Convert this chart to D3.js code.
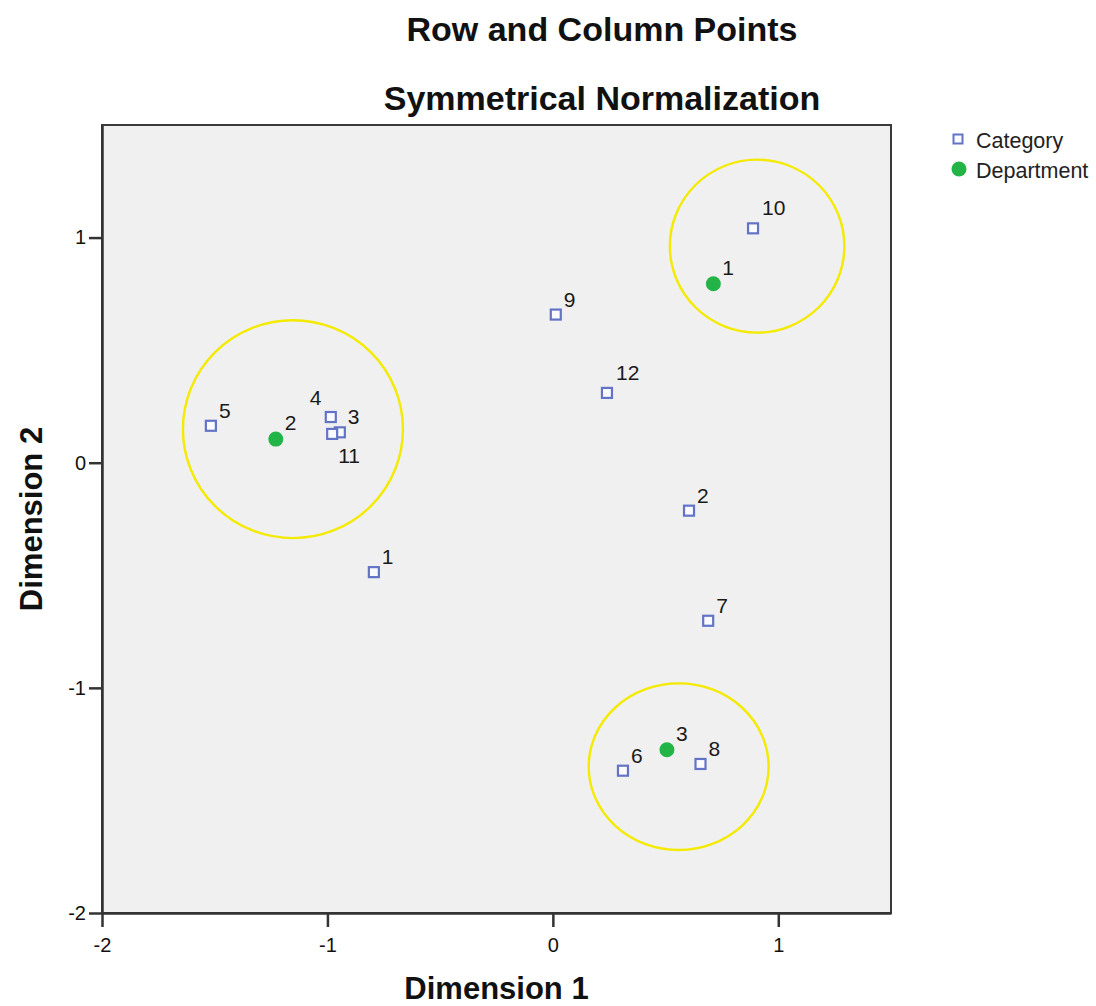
<!DOCTYPE html>
<html>
<head>
<meta charset="utf-8">
<script src="https://cdn.jsdelivr.net/npm/d3@7"></script>
<style>
  html, body { margin: 0; padding: 0; background: #fff; }
  svg { display: block; font-family: "Liberation Sans", Arial, sans-serif; }
</style>
</head>
<body>
<svg id="chart" width="1096" height="1006"></svg>
<script>
// ---- data ----
const titleLines = ["Row and Column Points", "Symmetrical Normalization"];
const xAxisTitle = "Dimension 1";
const yAxisTitle = "Dimension 2";
const xTicks = [-2, -1, 0, 1];
const yTicks = [-2, -1, 0, 1];
const xDomain = [-2, 1.5];
const yDomain = [-2, 1.5];

const categoryLabels = ["1", "2", "3", "4", "5", "6", "7", "8", "9", "10", "11", "12"];
const categoryDim1 = [-0.794, 0.604, -0.945, -0.985, -1.517, 0.311, 0.689, 0.655, 0.013, 0.888, -0.979, 0.240];
const categoryDim2 = [-0.486, -0.213, 0.135, 0.203, 0.164, -1.368, -0.702, -1.338, 0.658, 1.041, 0.128, 0.310];

const departmentLabels = ["1", "2", "3"];
const departmentDim1 = [0.712, -1.229, 0.506];
const departmentDim2 = [0.795, 0.105, -1.275];

// highlight ellipses (data units): centre and radii
const ringDim1 = [0.906, -1.153, 0.558];
const ringDim2 = [0.962, 0.149, -1.350];
const ringRx = [0.387, 0.488, 0.399];
const ringRy = [0.384, 0.484, 0.370];

const legendLabels = ["Category", "Department"];

// ---- layout / style ----
const plot = { left: 102, top: 125, width: 789, height: 788 };
const labelOffset = { def: [8, -8], "c4": [-21, -12], "c11": [6, 29], "c10": [9, -13], "c12": [9, -13] };
const blue = "#6374c6";
const green = "#22b447";
const ringColor = "#f4ea00";
const FONT = "'Liberation Sans', Arial, sans-serif";

const svg = d3.select("#chart");

const x = d3.scaleLinear().domain(xDomain).range([plot.left, plot.left + plot.width]);
const y = d3.scaleLinear().domain(yDomain).range([plot.top + plot.height, plot.top]);

// plot background + frame
svg.append("rect")
  .attr("x", plot.left).attr("y", plot.top)
  .attr("width", plot.width).attr("height", plot.height)
  .attr("fill", "#f0f0f0")
  .attr("stroke", "#3a3a3a").attr("stroke-width", 2);

// axes
const xAxis = d3.axisBottom(x).tickValues(xTicks).tickFormat(d => String(d))
  .tickSizeInner(14).tickSizeOuter(0).tickPadding(11);
const yAxis = d3.axisLeft(y).tickValues(yTicks).tickFormat(d => String(d))
  .tickSizeInner(13).tickSizeOuter(0).tickPadding(3);

const gx = svg.append("g").attr("transform", `translate(0,${plot.top + plot.height})`).call(xAxis);
const gy = svg.append("g").attr("transform", `translate(${plot.left},0)`).call(yAxis);
[gx, gy].forEach(g => {
  g.attr("font-size", null).attr("font-family", null);
  g.select(".domain").attr("stroke", "#333").attr("stroke-width", 2.5);
  g.selectAll(".tick line").attr("stroke", "#333").attr("stroke-width", 2.5);
  g.selectAll(".tick text").attr("fill", "#111")
    .attr("font-size", 20).attr("font-family", FONT);
});

// titles
titleLines.forEach((t, i) => {
  svg.append("text")
    .attr("x", 602).attr("y", i === 0 ? 41 : 110)
    .attr("text-anchor", "middle")
    .attr("font-size", 34).attr("font-weight", "bold").attr("fill", "#111")
    .text(t);
});

svg.append("text")
  .attr("x", plot.left + plot.width / 2).attr("y", 999)
  .attr("text-anchor", "middle")
  .attr("font-size", 31).attr("font-weight", "bold").attr("fill", "#111")
  .text(xAxisTitle);

svg.append("text")
  .attr("transform", `translate(42,${plot.top + plot.height / 2}) rotate(-90)`)
  .attr("text-anchor", "middle")
  .attr("font-size", 31).attr("font-weight", "bold").attr("fill", "#111")
  .text(yAxisTitle);

// rings
const plotG = svg.append("g");
ringDim1.forEach((cx, i) => {
  plotG.append("ellipse")
    .attr("cx", x(cx)).attr("cy", y(ringDim2[i]))
    .attr("rx", x(cx + ringRx[i]) - x(cx))
    .attr("ry", y(ringDim2[i] - ringRy[i]) - y(ringDim2[i]))
    .attr("fill", "none").attr("stroke", ringColor).attr("stroke-width", 2.4);
});

// points
const cats = categoryLabels.map((l, i) => ({ label: l, d1: categoryDim1[i], d2: categoryDim2[i] }));
const deps = departmentLabels.map((l, i) => ({ label: l, d1: departmentDim1[i], d2: departmentDim2[i] }));

plotG.selectAll("rect.cat").data(cats).join("rect")
  .attr("class", "cat")
  .attr("x", d => x(d.d1) - 5).attr("y", d => y(d.d2) - 5)
  .attr("width", 10).attr("height", 10)
  .attr("fill", "#fbfbff").attr("stroke", blue).attr("stroke-width", 2.2);

plotG.selectAll("circle.dep").data(deps).join("circle")
  .attr("class", "dep")
  .attr("cx", d => x(d.d1)).attr("cy", d => y(d.d2))
  .attr("r", 7.5).attr("fill", green);

const labelStyle = sel => sel.attr("font-size", 21).attr("fill", "#1a1a1a");

plotG.selectAll("text.catlab").data(cats).join("text")
  .attr("class", "catlab")
  .attr("x", d => x(d.d1) + (labelOffset["c" + d.label] || labelOffset.def)[0])
  .attr("y", d => y(d.d2) + (labelOffset["c" + d.label] || labelOffset.def)[1])
  .call(labelStyle)
  .text(d => d.label);

plotG.selectAll("text.deplab").data(deps).join("text")
  .attr("class", "deplab")
  .attr("x", d => x(d.d1) + 9)
  .attr("y", d => y(d.d2) - 9)
  .call(labelStyle)
  .text(d => d.label);

// legend
const lg = svg.append("g");
lg.append("rect").attr("x", 953.5).attr("y", 134.5).attr("width", 9).attr("height", 9)
  .attr("fill", "#fbfbff").attr("stroke", blue).attr("stroke-width", 2);
lg.append("circle").attr("cx", 959).attr("cy", 169).attr("r", 7.5).attr("fill", green);
legendLabels.forEach((t, i) => {
  lg.append("text").attr("x", 976).attr("y", 148 + i * 30)
    .attr("font-size", 21.5).attr("fill", "#222").text(t);
});
</script>
</body>
</html>
